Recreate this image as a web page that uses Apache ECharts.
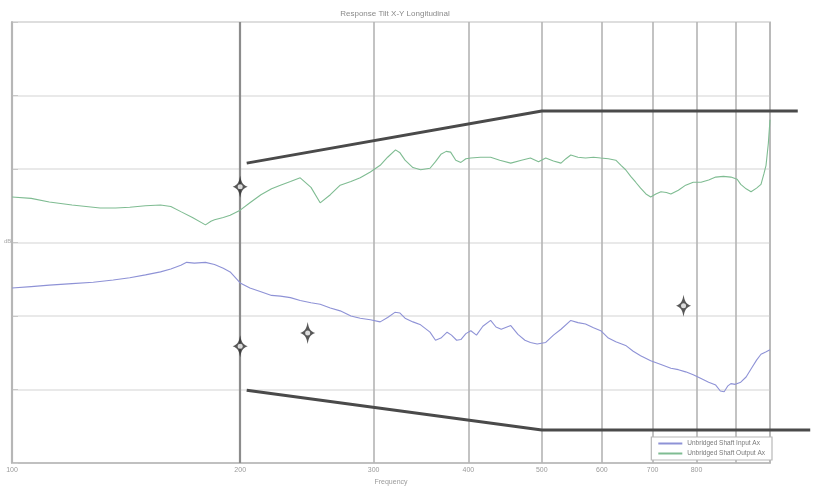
<!DOCTYPE html>
<html>
<head>
<meta charset="utf-8">
<script src="https://cdn.jsdelivr.net/npm/echarts@6/dist/echarts.min.js"></script>
<style>
  html, body { margin: 0; padding: 0; background: #fff; }
  #chart { width: 817px; height: 491px; }
</style>
</head>
<body>
<div id="chart"></div>
<script>
// Frequency grid (Hz) and the labelled ticks
const freqGrid = [100, 200, 300, 400, 500, 600, 700, 800, 900, 1000];
const freqLabels = [100, 200, 300, 400, 500, 600, 700, 800];

// Upper response trace: [frequency Hz, level dB]
const upperResponse = [
  [100, 6.2], [106, 6.0], [112, 5.5], [120, 5.1], [130.7, 4.7], [137, 4.7], [143, 4.8],
  [150, 5.0], [157, 5.1], [162, 4.9], [167, 4.2], [173, 3.4], [180, 2.4], [183, 2.9],
  [185, 3.1], [190, 3.4], [194, 3.7], [200, 4.4], [206, 5.4], [213, 6.5], [220, 7.3],
  [226, 7.8], [233, 8.3], [240, 8.8], [248, 7.5], [255, 5.4], [263, 6.5], [271, 7.8],
  [280, 8.3], [288, 8.8], [297, 9.6], [306, 10.5], [313, 11.6], [320.6, 12.6], [325, 12.2],
  [330, 11.2], [338, 10.2], [346, 9.9], [356, 10.1], [362, 11.0], [368, 12.0], [374, 12.4],
  [379, 12.3], [385, 11.2], [391, 10.9], [397, 11.4], [403, 11.5], [415, 11.6], [428, 11.6],
  [440, 11.2], [455, 10.8], [470, 11.2], [483, 11.5], [495, 11.0], [506, 11.5], [518, 11.1],
  [530, 10.8], [538, 11.4], [546, 11.9], [558, 11.6], [571, 11.5], [585, 11.6], [598, 11.5],
  [612, 11.4], [626, 11.2], [636, 10.5], [645, 9.9], [655, 9.0], [665, 8.2], [675, 7.4],
  [686, 6.6], [696, 6.2], [707, 6.6], [718, 6.9], [730, 6.8], [740, 6.6], [757, 7.1],
  [774, 7.8], [792, 8.2], [811, 8.2], [830, 8.5], [848, 8.9], [868, 9.0], [888, 8.9],
  [905, 8.6], [915, 7.9], [930, 7.3], [944, 6.9], [960, 7.4], [973, 7.9], [982, 9.4],
  [988, 10.5], [995, 13.5], [1000, 16.7]
];

// Lower response trace: [frequency Hz, level dB]
const lowerResponse = [
  [100, -6.2], [106, -6.0], [112, -5.8], [120, -5.6], [128, -5.4], [136, -5.1], [143, -4.8],
  [150, -4.4], [157, -4.0], [162, -3.6], [167, -3.1], [170, -2.7], [174, -2.8], [180, -2.7],
  [185, -3.0], [190, -3.5], [194, -4.0], [200, -5.5], [206, -6.2], [213, -6.7], [220, -7.2],
  [226, -7.3], [233, -7.5], [240, -7.9], [248, -8.2], [255, -8.4], [263, -8.9], [271, -9.3],
  [280, -10.0], [288, -10.3], [297, -10.5], [306, -10.8], [313, -10.2], [320, -9.5], [325, -9.6],
  [330, -10.3], [338, -10.8], [346, -11.2], [356, -12.2], [362, -13.3], [368, -13.0], [375, -12.2],
  [380, -12.6], [386, -13.3], [391, -13.2], [397, -12.4], [403, -12.0], [410, -12.6], [418, -11.4],
  [428, -10.6], [435, -11.5], [442, -11.8], [455, -11.3], [465, -12.5], [475, -13.3], [483, -13.6],
  [493, -13.8], [506, -13.6], [518, -12.6], [530, -11.8], [546, -10.6], [558, -10.9], [571, -11.1],
  [585, -11.6], [598, -12.0], [612, -13.0], [626, -13.5], [645, -14.0], [660, -14.8], [675, -15.4],
  [696, -16.1], [718, -16.6], [740, -17.1], [757, -17.3], [774, -17.6], [792, -18.0], [811, -18.5],
  [830, -19.0], [848, -19.4], [860, -20.2], [870, -20.3], [880, -19.5], [888, -19.2], [900, -19.3],
  [915, -19.0], [930, -18.3], [944, -17.2], [960, -16.0], [973, -15.2], [987, -14.9], [1000, -14.6]
];

// Tolerance envelope lines (they run past the 1 kHz frame edge)
const upperLimit = [[204, 10.8], [500, 17.9], [1088, 17.9]];
const lowerLimit = [[204, -20.1], [500, -25.5], [1130, -25.5]];

// Reference markers
const markerPoints = [[200, 7.6], [200, -14.1], [245.5, -12.3], [769, -8.6]];

const seriesNames = ['Unbridged Shaft Input Ax', 'Unbridged Shaft Output Ax'];
const titleText = 'Response Tilt X-Y Longitudinal';

// Frame geometry: main plot spans 100 Hz – 1 kHz; an overlay grid with the same
// scale extends to the right edge so the envelope lines are not cut at 1 kHz.
const plotLeft = 12, plotRight = 47, plotTop = 22, plotBottom = 28, chartW = 817;
const pxPerDecade = chartW - plotLeft - plotRight;
const overlayMax = 100 * Math.pow(10, (chartW - plotLeft) / pxPerDecade);

const starPath = 'path://M0,-10 C0.9,-4.5 1.6,-2 6,0 C1.6,2 0.9,4.5 0,10 C-0.9,4.5 -1.6,2 -6,0 C-1.6,-2 -0.9,-4.5 0,-10 Z';

const chart = echarts.init(document.getElementById('chart'), null, { renderer: 'canvas' });

const gridLines = freqGrid.map(f => ({
  xAxis: f,
  lineStyle: f === 200 ? { color: '#8c8c8c', width: 2.2, type: 'solid' }
                       : { color: '#b4b4b4', width: 1.6, type: 'solid' }
}));

chart.setOption({
  animation: false,
  backgroundColor: '#ffffff',
  title: {
    text: titleText,
    left: 390, top: 5, textAlign: 'center',
    textStyle: { fontSize: 8, fontWeight: 'normal', color: '#8a8a8a', fontFamily: 'Liberation Sans' }
  },
  grid: [
    { left: plotLeft, right: plotRight, top: plotTop, bottom: plotBottom,
      show: true, borderColor: '#c4c4c4', borderWidth: 1.5 },
    { left: plotLeft, right: 0, top: plotTop, bottom: plotBottom, show: false }
  ],
  legend: {
    data: seriesNames,
    orient: 'vertical',
    right: 45, top: 437,
    itemGap: 3, itemWidth: 24, itemHeight: 2, icon: 'rect',
    padding: [3, 7, 3, 7],
    backgroundColor: '#ffffff',
    borderColor: '#b8b8b8', borderWidth: 1.2, borderRadius: 0,
    textStyle: { fontSize: 6.5, color: '#7a7a7a', fontFamily: 'Liberation Sans' }
  },
  xAxis: [
    {
      gridIndex: 0, type: 'log', logBase: 10, min: 100, max: 1000,
      name: 'Frequency', nameLocation: 'middle', nameGap: 16,
      nameTextStyle: { fontSize: 7, color: '#9a9a9a', fontFamily: 'Liberation Sans' },
      axisLine: { onZero: false, lineStyle: { color: '#c0c0c0', width: 2 } },
      axisTick: { show: false },
      axisLabel: { customValues: freqLabels, fontSize: 7, color: '#9a9a9a', margin: 4,
                   fontFamily: 'Liberation Sans' },
      splitLine: { show: false },
      minorSplitLine: { show: false }
    },
    {
      gridIndex: 1, type: 'log', logBase: 10, min: 100, max: overlayMax, show: false
    }
  ],
  yAxis: [
    {
      gridIndex: 0, type: 'value', min: -30, max: 30, interval: 10,
      axisLine: { show: true, onZero: false, lineStyle: { color: '#c0c0c0', width: 2.2 } },
      axisTick: { show: true, inside: true, length: 6, lineStyle: { color: '#c8c8c8' } },
      axisLabel: { show: false },
      splitLine: { show: true, lineStyle: { color: '#e2e2e2', width: 1.5 } }
    },
    {
      gridIndex: 1, type: 'value', min: -30, max: 30, interval: 10, show: false,
      splitLine: { show: false }
    }
  ],
  graphic: [{
    type: 'text', left: 4, top: 238,
    style: { text: 'dB', fontSize: 6, fill: '#a8a8a8', fontFamily: 'Liberation Sans' }
  }],
  series: [
    {
      name: seriesNames[0], type: 'line', data: lowerResponse,
      xAxisIndex: 0, yAxisIndex: 0,
      showSymbol: false, lineStyle: { color: '#8e92d6', width: 1.1 },
      itemStyle: { color: '#8e92d6' },
      markLine: { silent: true, symbol: 'none', label: { show: false }, data: gridLines, z: 1 },
      z: 3
    },
    {
      name: seriesNames[1], type: 'line', data: upperResponse,
      xAxisIndex: 0, yAxisIndex: 0,
      showSymbol: false, lineStyle: { color: '#7fbc92', width: 1.1 },
      itemStyle: { color: '#7fbc92' },
      z: 3
    },
    {
      name: 'upper limit', type: 'line', data: upperLimit,
      xAxisIndex: 1, yAxisIndex: 1,
      showSymbol: false, lineStyle: { color: '#4a4a4a', width: 3 }, z: 4
    },
    {
      name: 'lower limit', type: 'line', data: lowerLimit,
      xAxisIndex: 1, yAxisIndex: 1,
      showSymbol: false, lineStyle: { color: '#4a4a4a', width: 3 }, z: 4
    },
    {
      name: 'markers', type: 'scatter', data: markerPoints,
      xAxisIndex: 0, yAxisIndex: 0,
      symbol: starPath, symbolSize: [15, 22],
      itemStyle: { color: '#2e2e2e' }, z: 5
    },
    {
      name: 'marker centres', type: 'scatter', data: markerPoints,
      xAxisIndex: 0, yAxisIndex: 0,
      symbol: 'circle', symbolSize: 5,
      itemStyle: { color: '#ffffff' }, z: 6
    }
  ]
});
</script>
</body>
</html>
